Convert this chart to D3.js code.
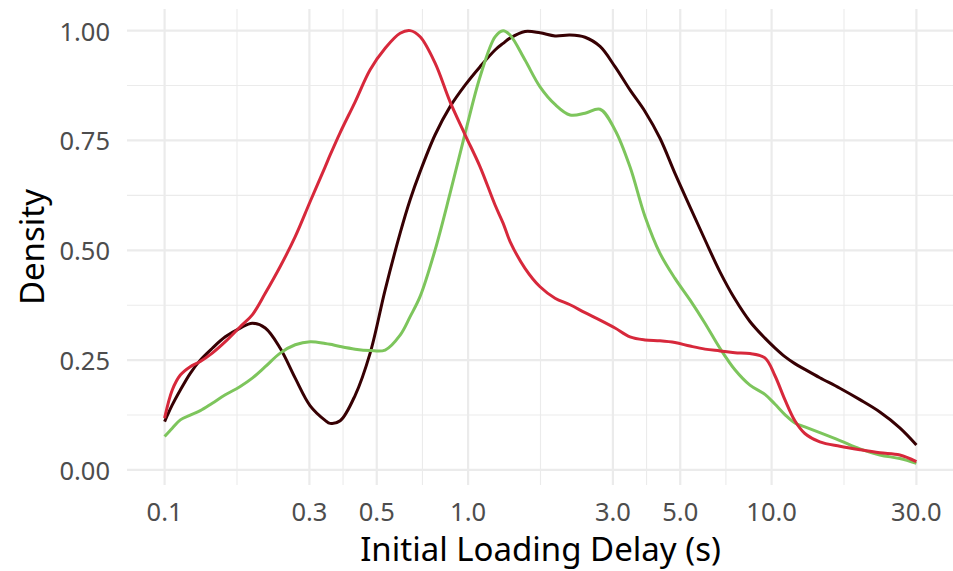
<!DOCTYPE html>
<html>
<head>
<meta charset="utf-8">
<script src="https://cdn.jsdelivr.net/npm/d3@7"></script>
<style>
  body { margin: 0; background: #fff; }
  text { font-family: "Source Sans Pro", "Noto Sans", sans-serif; }
</style>
</head>
<body>
<main></main>
<script>
// delay grid (seconds), shared by all three density curves
var delays = [0.1, 0.106, 0.1127, 0.1215, 0.1311, 0.1436, 0.1585, 0.1775, 0.1945, 0.2146,
  0.2404, 0.2694, 0.3018, 0.3381, 0.3512, 0.3789, 0.4245, 0.4756, 0.533, 0.5971,
  0.6442, 0.695, 0.7787, 0.8724, 0.9775, 1.0952, 1.227, 1.304, 1.375, 1.54,
  1.726, 1.934, 2.167, 2.428, 2.721, 3.048, 3.415, 3.827, 4.288, 4.804,
  5.383, 6.031, 6.758, 7.572, 8.484, 9.506, 10.25, 11.06, 11.93, 12.87,
  14.42, 16.79, 19.54, 22.73, 26.45, 30];

var redDensity = [0.118, 0.182, 0.216, 0.235, 0.247, 0.266, 0.292, 0.326, 0.353, 0.402,
  0.463, 0.531, 0.611, 0.69, 0.717, 0.768, 0.838, 0.911, 0.96, 0.994,
  1.0, 0.986, 0.926, 0.838, 0.763, 0.69, 0.603, 0.562, 0.52, 0.459,
  0.417, 0.391, 0.376, 0.358, 0.341, 0.323, 0.303, 0.296, 0.294, 0.29,
  0.282, 0.275, 0.271, 0.267, 0.265, 0.255, 0.215, 0.16, 0.112, 0.083,
  0.064, 0.054, 0.046, 0.039, 0.034, 0.019];

var greenDensity = [0.076, 0.095, 0.114, 0.125, 0.135, 0.152, 0.171, 0.19, 0.209, 0.235,
  0.266, 0.285, 0.292, 0.288, 0.286, 0.281, 0.275, 0.272, 0.273, 0.307,
  0.349, 0.395, 0.501, 0.63, 0.766, 0.895, 0.986, 1.0, 0.99, 0.933,
  0.872, 0.832, 0.808, 0.812, 0.821, 0.774, 0.69, 0.577, 0.493, 0.436,
  0.387, 0.334, 0.277, 0.228, 0.193, 0.172, 0.15, 0.126, 0.107, 0.098,
  0.085, 0.067, 0.048, 0.034, 0.026, 0.015];

var darkDensity = [0.11, 0.148, 0.182, 0.22, 0.25, 0.277, 0.303, 0.323, 0.334, 0.323,
  0.277, 0.209, 0.146, 0.113, 0.106, 0.112, 0.17, 0.266, 0.41, 0.539,
  0.615, 0.679, 0.763, 0.827, 0.876, 0.918, 0.956, 0.971, 0.983, 0.998,
  0.995, 0.988, 0.99, 0.985, 0.964, 0.918, 0.865, 0.816, 0.755, 0.675,
  0.599, 0.524, 0.451, 0.389, 0.338, 0.3, 0.278, 0.258, 0.242, 0.229,
  0.21, 0.186, 0.16, 0.132, 0.096, 0.057];

var xBreaks = [0.1, 0.3, 0.5, 1, 3, 5, 10, 30];
var yBreaks = [0, 0.25, 0.5, 0.75, 1];

var series = [
  {name: "dark", color: "#370003", values: darkDensity},
  {name: "green", color: "#7dc55c", values: greenDensity},
  {name: "red", color: "#d7283b", values: redDensity}
];

var W = 953, H = 571;
var panel = {left: 127, right: 954, top: 9, bottom: 485};

var svg = d3.select("main")
    .append("svg")
    .attr("width", W)
    .attr("height", H);

// ggplot-style 5% expansion of the data limits
var lx = [Math.log10(0.1), Math.log10(30)];
var ex = (lx[1] - lx[0]) * 0.05;
var x = d3.scaleLog()
    .domain([Math.pow(10, lx[0] - ex), Math.pow(10, lx[1] + ex)])
    .range([panel.left, panel.right]);

var yMin = d3.min(series, function(s) { return d3.min(s.values); });
var ey = (1 - yMin) * 0.05;
var y = d3.scaleLinear()
    .domain([yMin - ey, 1 + ey])
    .range([panel.bottom, panel.top]);

var grid = svg.append("g").attr("id", "grid");

// minor breaks: midpoints of the majors in transformed space
var xMinor = d3.pairs(xBreaks).map(function(p) { return Math.sqrt(p[0] * p[1]); });
var yMinor = d3.pairs(yBreaks).map(function(p) { return (p[0] + p[1]) / 2; });

grid.selectAll(".yminor").data(yMinor).enter()
    .append("line")
    .attr("x1", panel.left).attr("x2", panel.right)
    .attr("y1", function(d) { return y(d); }).attr("y2", function(d) { return y(d); })
    .attr("stroke", "#ebebeb").attr("stroke-width", 1.1);

grid.selectAll(".xminor").data(xMinor).enter()
    .append("line")
    .attr("y1", panel.top).attr("y2", panel.bottom)
    .attr("x1", function(d) { return x(d); }).attr("x2", function(d) { return x(d); })
    .attr("stroke", "#ebebeb").attr("stroke-width", 1.1);

grid.selectAll(".ymajor").data(yBreaks).enter()
    .append("line")
    .attr("x1", panel.left).attr("x2", panel.right)
    .attr("y1", function(d) { return y(d); }).attr("y2", function(d) { return y(d); })
    .attr("stroke", "#ebebeb").attr("stroke-width", 2.2);

grid.selectAll(".xmajor").data(xBreaks).enter()
    .append("line")
    .attr("y1", panel.top).attr("y2", panel.bottom)
    .attr("x1", function(d) { return x(d); }).attr("x2", function(d) { return x(d); })
    .attr("stroke", "#ebebeb").attr("stroke-width", 2.2);

// density curves
var line = d3.line()
    .x(function(d, i) { return x(delays[i]); })
    .y(function(d) { return y(d); })
    .curve(d3.curveCatmullRom.alpha(0.5));

svg.append("g").attr("id", "plot-area")
    .selectAll("path").data(series).enter()
    .append("path")
    .attr("d", function(s) { return line(s.values); })
    .attr("fill", "none")
    .attr("stroke", function(s) { return s.color; })
    .attr("stroke-width", 3)
    .attr("stroke-linejoin", "round");

// tick labels
var tickSize = 25.5;
svg.append("g").selectAll("text").data(yBreaks).enter()
    .append("text")
    .attr("x", 110)
    .attr("y", function(d) { return y(d) + 10; })
    .attr("text-anchor", "end")
    .attr("font-size", tickSize)
    .attr("fill", "#4d4d4d")
    .text(function(d) { return d3.format(".2f")(d); });

svg.append("g").selectAll("text").data(xBreaks).enter()
    .append("text")
    .attr("x", function(d) { return x(d); })
    .attr("y", 521)
    .attr("text-anchor", "middle")
    .attr("font-size", tickSize)
    .attr("fill", "#4d4d4d")
    .text(function(d) { return d3.format(".1f")(d); });

// axis titles
svg.append("text")
    .attr("x", (panel.left + panel.right) / 2)
    .attr("y", 561)
    .attr("text-anchor", "middle")
    .attr("font-size", 33)
    .attr("fill", "#000")
    .text("Initial Loading Delay (s)");

svg.append("text")
    .attr("transform", "translate(44," + ((panel.top + panel.bottom) / 2) + ") rotate(-90)")
    .attr("text-anchor", "middle")
    .attr("font-size", 33)
    .attr("fill", "#000")
    .text("Density");
</script>
</body>
</html>
